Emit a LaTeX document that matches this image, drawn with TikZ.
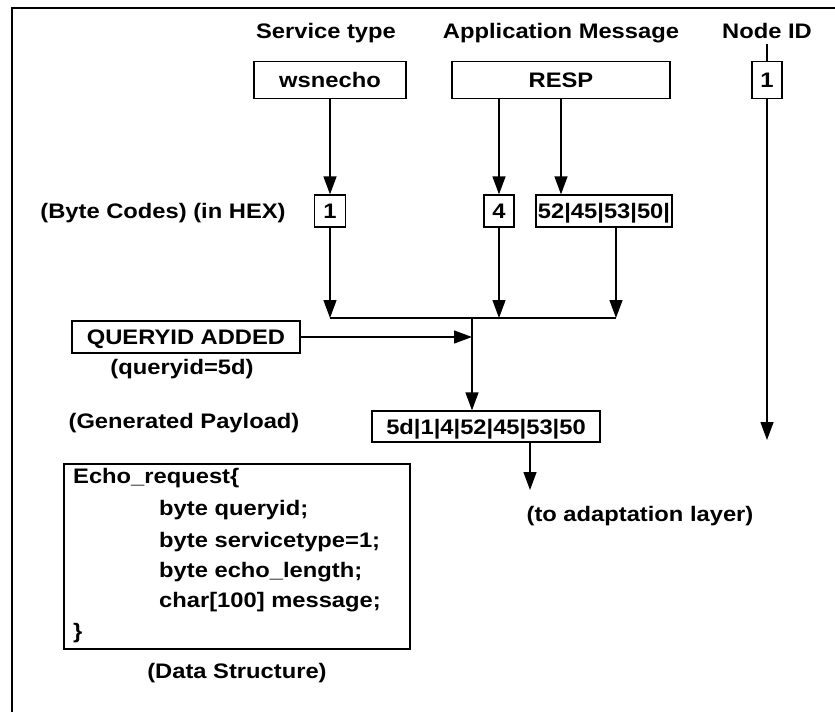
\documentclass[tikz,border=0pt]{standalone}
\usepackage{fontspec}
\setmainfont{Liberation Sans}[FakeStretch=1.13]
\usetikzlibrary{arrows.meta}
\begin{document}
\begin{tikzpicture}[x=1pt,y=-1pt,
  every node/.style={font=\bfseries\fontsize{21}{24}\selectfont, inner sep=0pt},
  lbl/.style={anchor=base},
  line/.style={anchor=base west},
  box/.style={draw, line width=1.3pt, text height=15pt, text depth=0pt, align=center},
  conn/.style={line width=1.3pt},
  arr/.style={conn, -{Triangle[length=18pt,width=13pt]}}]
\useasboundingbox (0,0) rectangle (835,712);
% outer frame (left and top edges)
\draw[line width=2pt] (12,712) -- (12,8) -- (835,8);

% column headings
\node[lbl] (st)  at (326,38) {Service type};
\node[lbl] (am)  at (561,38) {Application Message};
\node[lbl] (nid) at (767,38) {Node ID};

% input fields
\node[box, minimum width=152pt, minimum height=37pt] (ws)   at (330,80) {wsnecho};
\node[box, minimum width=218pt, minimum height=37pt] (resp) at (561,80) {RESP};
\node[box, minimum width=30pt,  minimum height=37pt] (id)   at (767,80) {1};

% byte codes
\node[lbl] (hex) at (163,218) {(Byte Codes) (in HEX)};
\node[box, minimum width=31pt,  minimum height=32pt] (b1)  at (330,211) {1};
\node[box, minimum width=30pt,  minimum height=32pt] (b4)  at (499,211) {4};
\node[box, minimum width=136pt, minimum height=32pt] (b52) at (604,211) {52|45|53|50|};

\draw[arr] (ws.south) -- (b1.north);
\draw[arr] (resp.south -| b4) -- (b4.north);
\draw[arr] (resp.south) -- (resp.south |- b52.north);

% collecting bus
\coordinate (j1) at (330,318);
\coordinate (j2) at (499,318);
\coordinate (j3) at (616,318);
\coordinate (jm) at (472,318);
\draw[conn] (j1) -- (j3);
\draw[arr] (b1.south) -- (j1);
\draw[arr] (b4.south) -- (j2);
\draw[arr] (j3 |- b52.south) -- (j3);

% query id
\node[box, minimum width=228pt, minimum height=32pt] (qa) at (186,337) {QUERYID ADDED};
\node[lbl] (qid) at (182,374) {(queryid=5d)};
\draw[arr] (qa.east) -- (qa.east -| jm);

% payload
\node[lbl] (gp) at (184,428) {(Generated Payload)};
\node[box, minimum width=228pt, minimum height=31pt] (pay) at (486,426.5) {5d|1|4|52|45|53|50};
\draw[arr] (jm) -- (jm |- pay.north);

\coordinate (adapt) at (530,490);
\draw[arr] (pay.south -| adapt) -- (adapt);
\node[lbl] (tal) at (640,521) {(to adaptation layer)};

% node id path
\coordinate (nidend) at (767,440);
\draw[conn] ([yshift=-6pt]nid.south) -- (id.north);
\draw[arr] (id.south) -- (nidend);

% data structure
\node[draw, line width=1.3pt, minimum width=346pt, minimum height=185pt] (echo) at (237,556.5) {};
\node[line] (e1) at (73,483)  {Echo\_request\{};
\node[line] (e2) at (159,515) {byte queryid;};
\node[line] (e3) at (159,547) {byte servicetype=1;};
\node[line] (e4) at (159,577) {byte echo\_length;};
\node[line] (e5) at (159,607) {char[100] message;};
\node[line] (e6) at (73,638)  {\}};
\node[lbl] (ds) at (237,678) {(Data Structure)};
\end{tikzpicture}
\end{document}
